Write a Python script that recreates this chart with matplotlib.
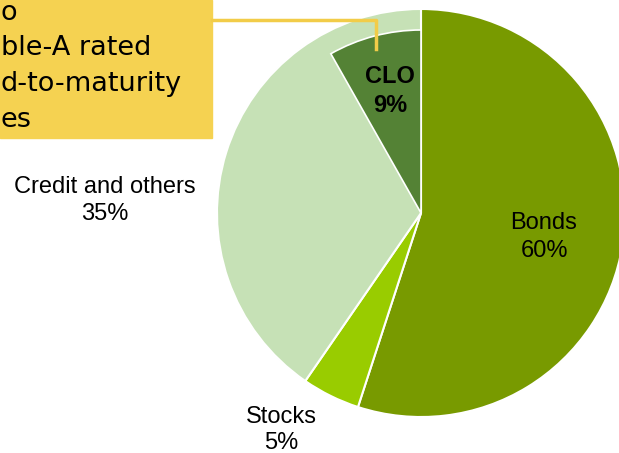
import matplotlib.pyplot as plt
from matplotlib.patches import Rectangle
from matplotlib.lines import Line2D

# slice shares as drawn (clockwise from 12 o'clock)
names = ['Bonds', 'Stocks', 'Credit and others']
shares = [55.0, 4.6, 40.4]
pct_labels = ['60%', '5%', '35%']
colors = ['#789a00', '#99cc00', '#c6e1b6']

# CLO is a part of "Credit and others"
clo_share = 8.2
clo_label = ['CLO', '9%']
clo_color = '#548235'

callout_lines = ['o', 'ble-A rated', 'd-to-maturity', 'es']

W, H = 619, 453
fig = plt.figure(figsize=(W / 100, H / 100), dpi=100)

def fx(x):
    return x / W

def fy(y):
    return 1 - y / H

# pie centred at (421, 213) px, radius 204 px
cx, cy, R = 421, 213, 204
ax = fig.add_axes([0, 0, 1, 1])
ax.pie(shares, colors=colors, startangle=90, counterclock=False, radius=1,
       wedgeprops=dict(edgecolor='white', linewidth=1.5))
w, _ = ax.pie([clo_share, 100 - clo_share], colors=[clo_color, 'white'],
              startangle=90, counterclock=True, radius=183 / R,
              wedgeprops=dict(edgecolor='white', linewidth=1.2))
w[1].set_visible(False)
ax.set_xlim(-cx / R, (W - cx) / R)
ax.set_ylim(-(H - cy) / R, cy / R)
ax.set_aspect('auto')
ax.axis('off')

lab = dict(family='Liberation Sans', fontsize=17, ha='center', va='baseline')
fig.text(fx(105), fy(193), names[2], **lab)
fig.text(fx(105), fy(220), pct_labels[2], **lab)
fig.text(fx(544), fy(229), names[0], **lab)
fig.text(fx(544), fy(257), pct_labels[0], **lab)
fig.text(fx(281), fy(423), names[1], **lab)
fig.text(fx(281), fy(449), pct_labels[1], **lab)
fig.text(fx(390), fy(83), clo_label[0], fontweight='bold', **lab)
fig.text(fx(390), fy(112), clo_label[1], fontweight='bold', **lab)

# callout box and connector
box_color = '#f5d251'
fig.add_artist(Rectangle((0, fy(138)), fx(212), 1 - fy(138),
                         transform=fig.transFigure, color=box_color, zorder=1))
fig.add_artist(Line2D([fx(212), fx(376), fx(376)], [fy(20), fy(20), fy(49)],
                      transform=fig.transFigure, color='#f2cc48', lw=2.5, zorder=2))
for txt, xl, yb in zip(callout_lines, [1, 1, 1, 1], [20, 55, 91, 127]):
    fig.text(fx(xl), fy(yb), txt, family='DejaVu Sans', fontsize=19.5,
             ha='left', va='baseline', zorder=3)

fig.savefig('out.png', dpi=100)
